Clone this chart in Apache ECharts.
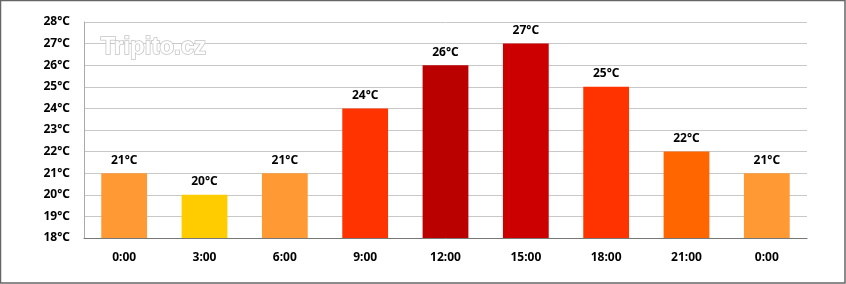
<!DOCTYPE html>
<html><head><meta charset="utf-8">
<script src="https://cdn.jsdelivr.net/npm/echarts@6/dist/echarts.min.js"></script>
<style>html,body{margin:0;padding:0;background:#fff}#c{width:846px;height:284px}</style>
</head><body><div id="c"></div>
<script>
const categories = ['0:00','3:00','6:00','9:00','12:00','15:00','18:00','21:00','0:00'];
const temps = [21,20,21,24,26,27,25,22,21];
const colors = ['#FF9933','#FFCC00','#FF9933','#FF3300','#BB0000','#CC0000','#FF3300','#FF6600','#FF9933'];
const chart = echarts.init(document.getElementById('c'));
const font = '"Noto Sans", sans-serif';
chart.setOption({
  animation:false,
  grid:{left:84,right:39,top:22,bottom:46,containLabel:false},
  xAxis:{type:'category',data:categories,
    axisLine:{lineStyle:{color:'#777',width:1}},axisTick:{show:false},
    axisLabel:{color:'#000',fontWeight:'bold',fontSize:12,fontFamily:font,margin:14}},
  yAxis:{type:'value',min:18,max:28,interval:1,
    axisLine:{show:true,lineStyle:{color:'#aaa'}},axisTick:{show:false},
    splitLine:{lineStyle:{color:'#c8c8c8'}},
    axisLabel:{color:'#000',fontWeight:'bold',fontSize:12,fontFamily:font,margin:14,formatter:v=>v+'°C'}},
  series:[{type:'bar',barWidth:'57%',
    data:temps.map((v,i)=>({value:v,itemStyle:{color:colors[i]}})),
    label:{show:true,position:'top',distance:7,color:'#000',fontWeight:'bold',fontSize:12,fontFamily:font,formatter:p=>p.value+'°C'}}],
  graphic:[
    {type:'rect',shape:{x:0.5,y:0.5,width:844.5,height:282.5},style:{fill:'none',stroke:'#666',lineWidth:1.5},z:100},
    {type:'text',left:100,top:35,style:{text:'Tripito.cz',font:'bold 24px "Liberation Sans", sans-serif',fill:'#fff',stroke:'#c4c4c4',lineWidth:1.5},z:50}
  ]
});
</script></body></html>
